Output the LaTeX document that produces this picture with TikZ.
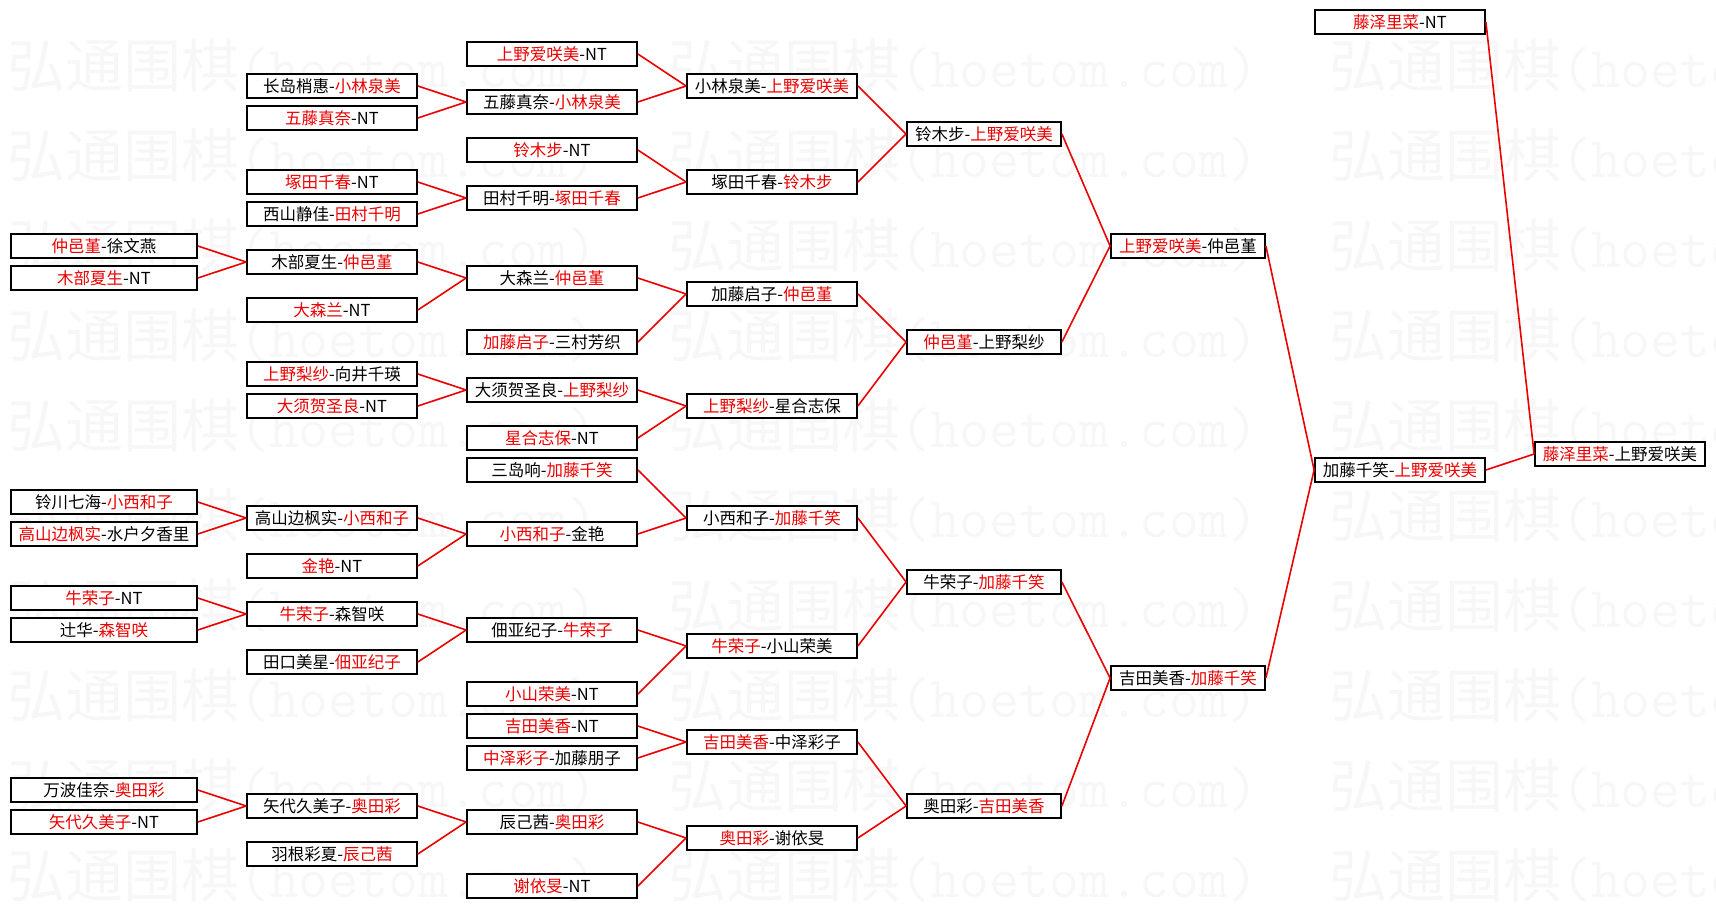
\documentclass[tikz,border=0pt]{standalone}
\usepackage{fontspec}
\usepackage{xcolor}
\usepackage{tikz}
\newfontfamily\cjk{Noto Sans CJK SC}
\definecolor{mark gray}{rgb}{0.968, 0.968, 0.968}
\definecolor{win red}{rgb}{0.92, 0.0, 0.0}
\newcommand{\wn}[1]{\textcolor{win red}{#1}}
\tikzset{
	game/.style = {draw = black, line width = 1.8pt, fill = white, inner sep = 0pt,
		minimum height = 24pt, font = \cjk\fontsize{16.5}{16.5}\selectfont},
	gameA/.style = {game, minimum width = 186pt},
	gameB/.style = {game, minimum width = 170pt},
	gameE/.style = {game, minimum width = 154pt},
	link/.style = {win red, line width = 1.6pt}
}

\begin{document}
\begin{tikzpicture}[x = 1pt, y = -16pt]
			\useasboundingbox (0, -1.375) rectangle (1716, 55.4375);
			% watermark
			\begin{scope}
				\foreach \j in {0, ..., 9} {
					\foreach \i in {0, 1, 2} {
						\node[anchor = west, inner sep = 0pt, text = mark gray]
							at ({7 + 661*\i}, {2.75 + 5.625*\j})
							{\cjk\fontsize{58}{58}\selectfont 弘通围棋\ttfamily (hoetom.com)};
					}
				}
			\end{scope}
			% first column
			\node[gameA] (a1) at (104, 14) {\wn{仲邑堇}-徐文燕};
			\node[gameA] (a2) at (104, 16) {\wn{木部夏生}-NT};
			\node[gameA] (a3) at (104, 30) {铃川七海-\wn{小西和子}};
			\node[gameA] (a4) at (104, 32) {\wn{高山边枫实}-水户夕香里};
			\node[gameA] (a5) at (104, 36) {\wn{牛荣子}-NT};
			\node[gameA] (a6) at (104, 38) {辻华-\wn{森智咲}};
			\node[gameA] (a7) at (104, 48) {万波佳奈-\wn{奥田彩}};
			\node[gameA] (a8) at (104, 50) {\wn{矢代久美子}-NT};
			% second column
			\node[gameB] (b1) at (332, 4) {长岛梢惠-\wn{小林泉美}};
			\node[gameB] (b2) at (332, 6) {\wn{五藤真奈}-NT};
			\node[gameB] (b3) at (332, 10) {\wn{塚田千春}-NT};
			\node[gameB] (b4) at (332, 12) {西山静佳-\wn{田村千明}};
			\node[gameB] (b5) at (332, 15) {木部夏生-\wn{仲邑堇}};
			\node[gameB] (b6) at (332, 18) {\wn{大森兰}-NT};
			\node[gameB] (b7) at (332, 22) {\wn{上野梨纱}-向井千瑛};
			\node[gameB] (b8) at (332, 24) {\wn{大须贺圣良}-NT};
			\node[gameB] (b9) at (332, 31) {高山边枫实-\wn{小西和子}};
			\node[gameB] (b10) at (332, 34) {\wn{金艳}-NT};
			\node[gameB] (b11) at (332, 37) {\wn{牛荣子}-森智咲};
			\node[gameB] (b12) at (332, 40) {田口美星-\wn{佃亚纪子}};
			\node[gameB] (b13) at (332, 49) {矢代久美子-\wn{奥田彩}};
			\node[gameB] (b14) at (332, 52) {羽根彩夏-\wn{辰己茜}};
			% third column
			\node[gameB] (c1) at (552, 2) {\wn{上野爱咲美}-NT};
			\node[gameB] (c2) at (552, 5) {五藤真奈-\wn{小林泉美}};
			\node[gameB] (c3) at (552, 8) {\wn{铃木步}-NT};
			\node[gameB] (c4) at (552, 11) {田村千明-\wn{塚田千春}};
			\node[gameB] (c5) at (552, 16) {大森兰-\wn{仲邑堇}};
			\node[gameB] (c6) at (552, 20) {\wn{加藤启子}-三村芳织};
			\node[gameB] (c7) at (552, 23) {大须贺圣良-\wn{上野梨纱}};
			\node[gameB] (c8) at (552, 26) {\wn{星合志保}-NT};
			\node[gameB] (c9) at (552, 28) {三岛响-\wn{加藤千笑}};
			\node[gameB] (c10) at (552, 32) {\wn{小西和子}-金艳};
			\node[gameB] (c11) at (552, 38) {佃亚纪子-\wn{牛荣子}};
			\node[gameB] (c12) at (552, 42) {\wn{小山荣美}-NT};
			\node[gameB] (c13) at (552, 44) {\wn{吉田美香}-NT};
			\node[gameB] (c14) at (552, 46) {\wn{中泽彩子}-加藤朋子};
			\node[gameB] (c15) at (552, 50) {辰己茜-\wn{奥田彩}};
			\node[gameB] (c16) at (552, 54) {\wn{谢依旻}-NT};
			% fourth column
			\node[gameB] (d1) at (772, 4) {小林泉美-\wn{上野爱咲美}};
			\node[gameB] (d2) at (772, 10) {塚田千春-\wn{铃木步}};
			\node[gameB] (d3) at (772, 17) {加藤启子-\wn{仲邑堇}};
			\node[gameB] (d4) at (772, 24) {\wn{上野梨纱}-星合志保};
			\node[gameB] (d5) at (772, 31) {小西和子-\wn{加藤千笑}};
			\node[gameB] (d6) at (772, 39) {\wn{牛荣子}-小山荣美};
			\node[gameB] (d7) at (772, 45) {\wn{吉田美香}-中泽彩子};
			\node[gameB] (d8) at (772, 51) {\wn{奥田彩}-谢依旻};
			% quarter and semi finals
			\node[gameE] (e1) at (984, 7) {铃木步-\wn{上野爱咲美}};
			\node[gameE] (e2) at (984, 20) {\wn{仲邑堇}-上野梨纱};
			\node[gameE] (e3) at (984, 35) {牛荣子-\wn{加藤千笑}};
			\node[gameE] (e4) at (984, 49) {奥田彩-\wn{吉田美香}};
			\node[gameE] (f1) at (1188, 14) {\wn{上野爱咲美}-仲邑堇};
			\node[gameE] (f2) at (1188, 41) {吉田美香-\wn{加藤千笑}};
			% final
			\node[gameB] (g1) at (1400, 0) {\wn{藤泽里菜}-NT};
			\node[gameB] (g2) at (1400, 28) {加藤千笑-\wn{上野爱咲美}};
			\node[gameB] (h1) at (1620, 27) {\wn{藤泽里菜}-上野爱咲美};
			% links
			\foreach \p/\c in {a1/b5, a2/b5, a3/b9, a4/b9, a5/b11, a6/b11, a7/b13, a8/b13,
					b1/c2, b2/c2, b3/c4, b4/c4, b5/c5, b6/c5, b7/c7, b8/c7,
					b9/c10, b10/c10, b11/c11, b12/c11, b13/c15, b14/c15,
					c1/d1, c2/d1, c3/d2, c4/d2, c5/d3, c6/d3, c7/d4, c8/d4,
					c9/d5, c10/d5, c11/d6, c12/d6, c13/d7, c14/d7, c15/d8, c16/d8,
					d1/e1, d2/e1, d3/e2, d4/e2, d5/e3, d6/e3, d7/e4, d8/e4,
					e1/f1, e2/f1, e3/f2, e4/f2, f1/g2, f2/g2, g1/h1, g2/h1}
				\draw[link] (\p.east) -- (\c.west);
		\end{tikzpicture}
\end{document}
